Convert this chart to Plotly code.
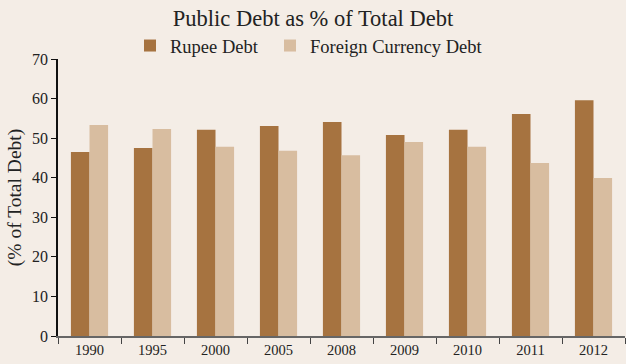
import plotly.graph_objects as go

years = ["1990", "1995", "2000", "2005", "2008", "2009", "2010", "2011", "2012"]
rupee_debt = [46.5, 47.5, 52.1, 53.1, 54.1, 50.8, 52.1, 56.1, 59.6]
foreign_debt = [53.3, 52.3, 47.8, 46.8, 45.7, 49.0, 47.8, 43.7, 39.9]
y_ticks = [0, 10, 20, 30, 40, 50, 60, 70]

bg = "#F4EDE6"
font_family = "Liberation Serif, Times New Roman, serif"
legend_style = dict(orientation="h", xref="container", yref="container",
                    xanchor="left", yanchor="middle", y=1 - 46 / 364,
                    font=dict(size=18.5, family=font_family, color="#222222"),
                    bgcolor="rgba(0,0,0,0)", itemwidth=30)

fig = go.Figure()
fig.add_trace(go.Bar(x=years, y=rupee_debt, name="Rupee Debt", legend="legend",
                     marker=dict(color="#A67340", line=dict(width=0))))
fig.add_trace(go.Bar(x=years, y=foreign_debt, name="Foreign Currency Debt", legend="legend2",
                     marker=dict(color="#D8BDA0", line=dict(width=0))))

fig.update_layout(
    width=626, height=364,
    paper_bgcolor=bg, plot_bgcolor=bg,
    margin=dict(l=58, r=1, t=59, b=28, autoexpand=False),
    barmode="group", bargap=0.41, bargroupgap=0,
    font=dict(family=font_family, color="#222222"),
    title=dict(text="Public Debt as % of Total Debt", x=0.5, xanchor="center",
               y=0.95, yanchor="middle", yref="container",
               font=dict(size=22.5, family=font_family, color="#222222")),
    legend=dict(legend_style, x=130 / 626),
    legend2=dict(legend_style, x=270 / 626),
    showlegend=True,
)
fig.update_xaxes(
    type="category", showgrid=False, showline=True, linecolor="#666666", linewidth=2,
    ticks="outside", tickson="boundaries", ticklen=6, tickcolor="#444444", tickwidth=1,
    tickfont=dict(size=14.5, family=font_family, color="#222222"),
)
fig.update_yaxes(
    range=[0, 70], tickvals=y_ticks, showgrid=False, zeroline=False,
    showline=True, linecolor="#111111", linewidth=1.5,
    ticks="outside", ticklen=5, tickcolor="#111111",
    tickfont=dict(size=16, family=font_family, color="#222222"),
    title=dict(text="(% of Total Debt)", font=dict(size=19.5, family=font_family), standoff=5),
)

fig.write_html("out.html")
